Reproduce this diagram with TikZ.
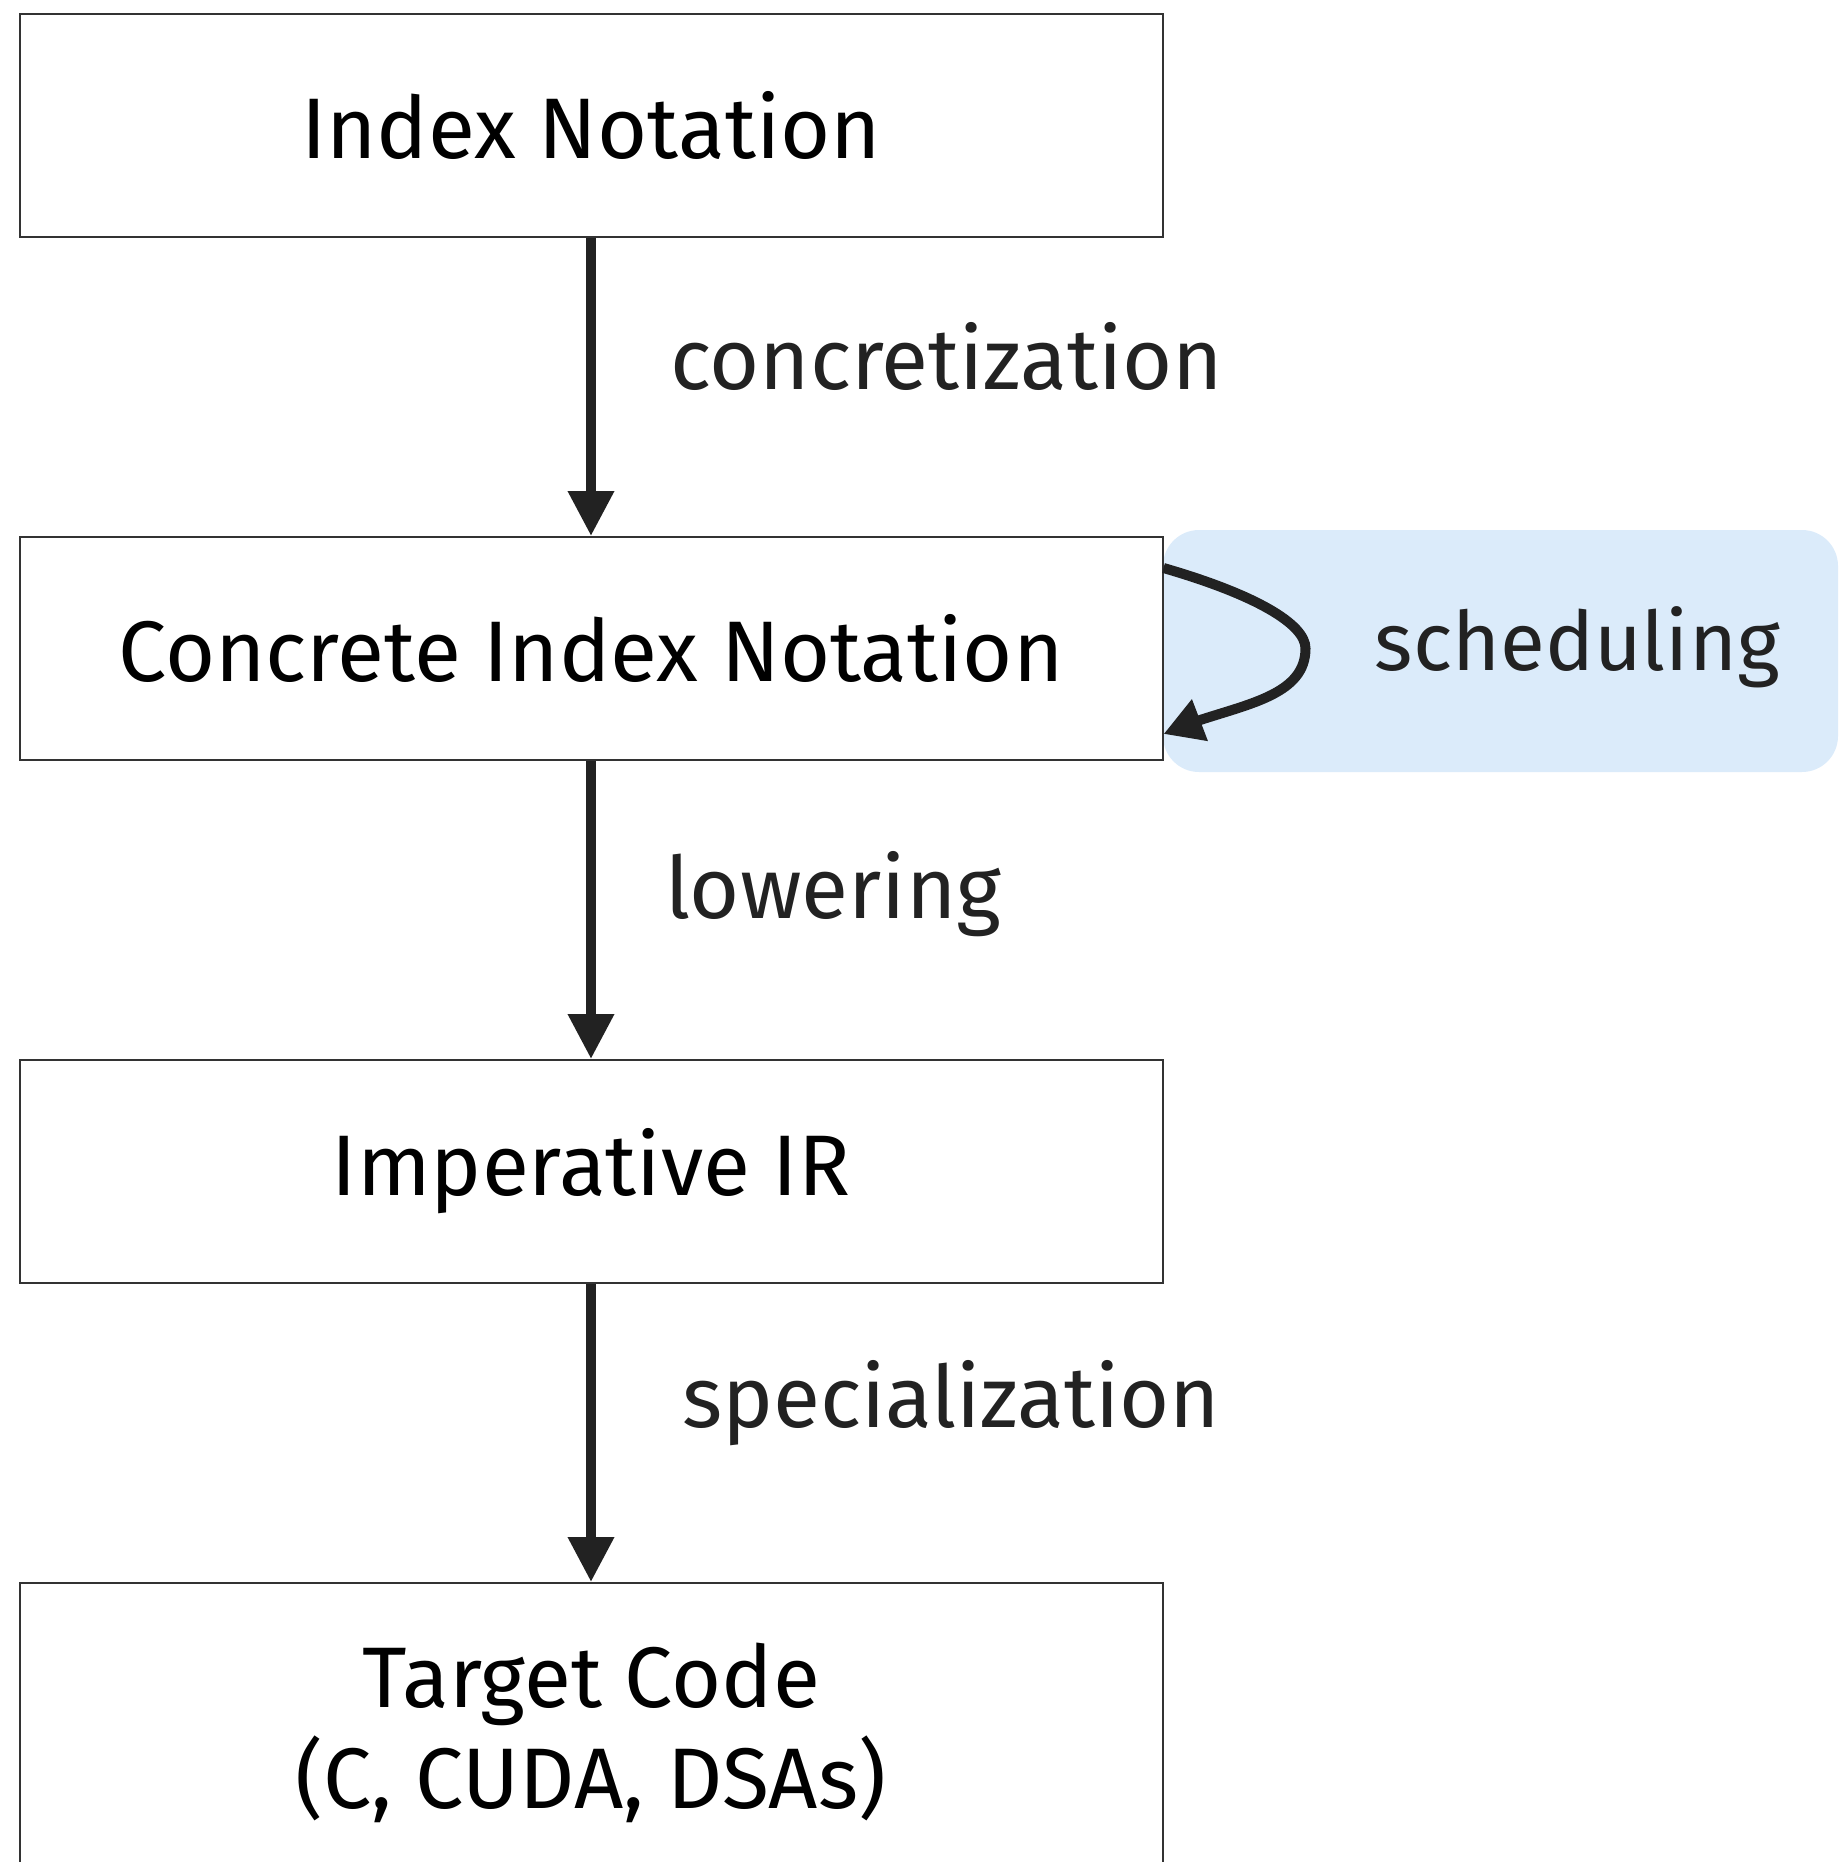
\documentclass[tikz,border=0pt]{standalone}
\usepackage{fontspec}
\setmainfont{Fira Sans}
\usetikzlibrary{arrows.meta,bending,positioning}
\definecolor{edgegray}{HTML}{222222}
\definecolor{boxline}{HTML}{333333}
\definecolor{labelblue}{RGB}{219,235,250}

\begin{document}
\begin{tikzpicture}[x=0.5pt, y=-0.5pt,
  stage/.style={draw=boxline, line width=1pt, fill=white, minimum width=571.5pt,
    minimum height=111.5pt, inner sep=0pt, align=center,
    font=\fontsize{43}{50.5}\selectfont},
  pass/.style={edgegray, line width=5pt, -{Triangle[length=22.5pt,width=22pt]}},
  passlabel/.style={text=edgegray, anchor=base west, inner sep=0pt,
    font=\fontsize{43}{48}\selectfont},
  node distance=149pt]
\useasboundingbox (0,0) rectangle (1839,1862);
\clip (0,0) rectangle (1839,1862);
% label background of the self loop
\fill[labelblue, rounded corners=18pt] (1163,530) rectangle (1838,772);
\node[stage] (idx) at (591,125.5) {Index Notation};
\node[stage, below=of idx] (cin) {Concrete Index Notation};
\node[stage, below=of cin] (imp) {Imperative IR};
\node[stage, below=of imp, minimum height=150pt] (tgt) {Target Code\\(C, CUDA, DSAs)};
\draw[pass] (idx) -- node[passlabel, xshift=37pt, yshift=-1pt] {concretization} (cin);
\draw[pass] (cin) -- node[passlabel, xshift=34.5pt, yshift=-4pt] {lowering} (imp);
\draw[pass] (imp) -- node[passlabel, xshift=43pt, yshift=3pt] {specialization} (tgt);
\coordinate (loopR) at ([xshift=71pt]cin.east);
\draw[edgegray, line width=5pt, -{Triangle[length=19.5pt,width=21pt,flex]}]
  ([yshift=-16pt]cin.north east) .. controls +(90,26) and +(0,-25) .. (loopR)
  .. controls +(0,55) and +(60,-28) .. ([yshift=13.5pt]cin.south east);
\node[passlabel, font=\fontsize{41}{48}\selectfont] (sched)
  at ([xshift=34.5pt, yshift=-11pt]loopR) {scheduling};
\end{tikzpicture}
\end{document}
